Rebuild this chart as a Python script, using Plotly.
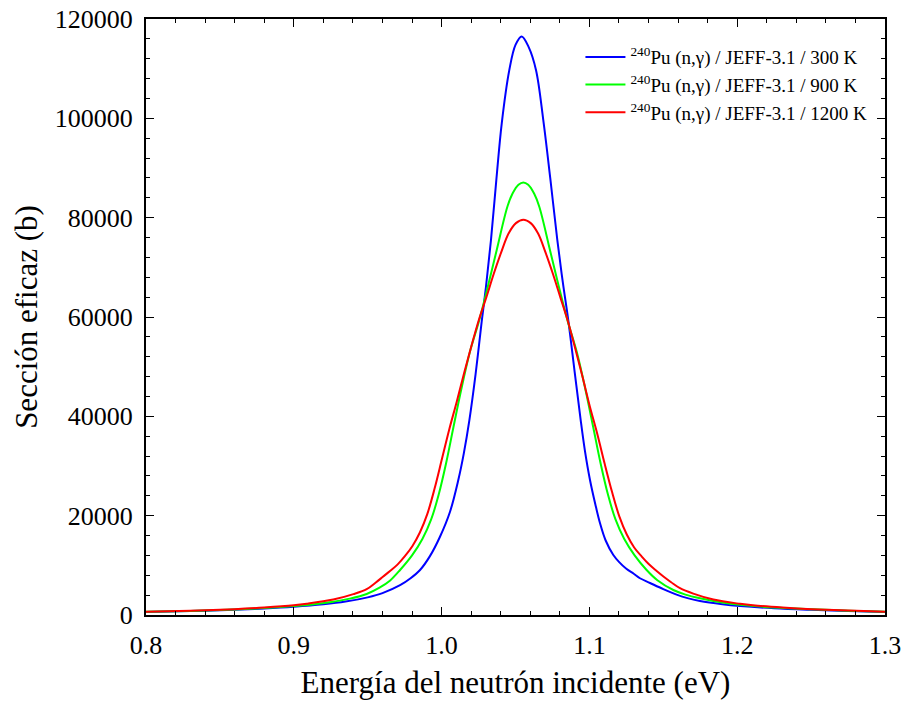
import plotly.graph_objects as go

# Energía (eV) / sección eficaz (b)
E_300 = [0.80, 0.83, 0.86, 0.88, 0.90, 0.92, 0.935, 0.95, 0.96, 0.9719, 0.9790, 0.9854,
         0.9920, 0.9989, 1.0057, 1.0113, 1.0150, 1.0188, 1.0230, 1.0271, 1.0300, 1.0334,
         1.0370, 1.0407, 1.0458, 1.0500, 1.0542, 1.0590, 1.0639, 1.0688, 1.0735, 1.0783,
         1.0820, 1.0857, 1.0900, 1.0941, 1.0970, 1.1004, 1.1040, 1.1072, 1.1110, 1.1162,
         1.1200, 1.1250, 1.1300, 1.1342, 1.1410, 1.1500, 1.1590, 1.1670, 1.1748, 1.19,
         1.2019, 1.225, 1.25, 1.275, 1.30]
S_300 = [620, 800, 1050, 1300, 1650, 2150, 2700, 3550, 4400, 6000, 7400, 9060,
         11800, 15760, 20800, 27180, 32500, 39250, 48500, 59000, 66000, 75490,
         87500, 99000, 109700, 114800, 116500, 114300, 109700, 99640, 88000, 75490,
         67000, 59380, 49000, 39250, 33000, 27180, 22300, 18460, 15000, 12080,
         10700, 9300, 8300, 7400, 6450, 5200, 4100, 3350, 2800, 2150,
         1800, 1350, 1050, 820, 620]

E_900 = [0.80, 0.83, 0.86, 0.88, 0.90, 0.915, 0.9267, 0.938, 0.9493, 0.958, 0.965, 0.9719,
         0.9800, 0.9870, 0.9930, 0.9980, 1.0030, 1.0080, 1.0130, 1.0190, 1.0255, 1.0320,
         1.0373, 1.0445, 1.0480, 1.0520, 1.0553, 1.0586, 1.0626, 1.0661, 1.0733, 1.0786,
         1.0851, 1.0916, 1.0976, 1.1026, 1.1076, 1.1126, 1.1176, 1.1236, 1.1306, 1.1387,
         1.146, 1.1568, 1.165, 1.1748, 1.19, 1.2019, 1.225, 1.25, 1.275, 1.30]
S_900 = [640, 830, 1100, 1400, 1800, 2200, 2690, 3300, 4230, 5500, 6900, 9060,
         12000, 15300, 19300, 24200, 30500, 37800, 45000, 52800, 59400, 67000,
         73500, 82200, 84860, 86640, 87100, 86640, 84860, 82200, 73500, 67000,
         59400, 52800, 45000, 37800, 30500, 24200, 19300, 15300, 12000, 9060,
         7000, 5030, 4100, 3360, 2500, 2050, 1500, 1150, 880, 640]

E_1200 = [0.80, 0.83, 0.86, 0.88, 0.90, 0.9087, 0.9267, 0.9403, 0.9493, 0.9553, 0.9603,
          0.9653, 0.9703, 0.9753, 0.9803, 0.9853, 0.9903, 0.9953, 1.0003, 1.0053, 1.0103,
          1.0153, 1.0203, 1.0253, 1.0303, 1.0353, 1.0403, 1.0453, 1.0503, 1.0553, 1.0603,
          1.0653, 1.0703, 1.0753, 1.0803, 1.0853, 1.0903, 1.0953, 1.1003, 1.1053, 1.1103,
          1.1153, 1.1203, 1.1253, 1.1303, 1.1353, 1.1403, 1.1453, 1.1503, 1.1553, 1.1613,
          1.1703, 1.1839, 1.2019, 1.2106, 1.2306, 1.2506, 1.2806, 1.30]
S_1200 = [650, 860, 1170, 1500, 1950, 2250, 3100, 4200, 5200, 6500, 7700,
          8900, 10200, 11900, 13900, 16600, 20300, 25500, 31500, 37500, 43000,
          48800, 54300, 59500, 64000, 68700, 73000, 76800, 78900, 79600, 78900,
          76800, 73000, 68700, 64000, 59300, 53800, 48000, 42000, 36500, 30500,
          24800, 19800, 16200, 13600, 11800, 10200, 8900, 7700, 6600, 5400,
          4300, 3100, 2250, 1950, 1500, 1170, 860, 660]

names = ["<sup>240</sup>Pu (n,γ) / JEFF-3.1 / 300 K",
         "<sup>240</sup>Pu (n,γ) / JEFF-3.1 / 900 K",
         "<sup>240</sup>Pu (n,γ) / JEFF-3.1 / 1200 K"]
colors = ["#0000ff", "#00ff00", "#ff0000"]

FONT = "Liberation Serif"

fig = go.Figure()
for e, s, n, c in zip([E_300, E_900, E_1200], [S_300, S_900, S_1200], names, colors):
    fig.add_trace(go.Scatter(x=e, y=s, mode="lines", name=n,
                             line=dict(color=c, width=2, shape="spline", smoothing=1.0)))

axis_common = dict(showline=True, linecolor="black", linewidth=2, mirror="ticks",
                   ticks="inside", tickcolor="black", tickwidth=1, showgrid=False,
                   zeroline=False, tickfont=dict(family=FONT, size=26, color="black"))

fig.update_xaxes(range=[0.8, 1.3], dtick=0.1, tick0=0.8, ticklen=8,
                 tickformat=".1f", ticklabelstandoff=6,
                 minor=dict(dtick=0.02, ticks="inside", ticklen=4, tickcolor="black", showgrid=False),
                 title=dict(text="Energía del neutrón incidente (eV)",
                            font=dict(family=FONT, size=31, color="black"), standoff=12),
                 **axis_common)
fig.update_yaxes(range=[0, 120000], dtick=20000, tick0=0, ticklen=8,
                 tickformat="d", ticklabelstandoff=6,
                 minor=dict(dtick=4000, ticks="inside", ticklen=4, tickcolor="black", showgrid=False),
                 title=dict(text="Sección eficaz (b)",
                            font=dict(family=FONT, size=31, color="black"), standoff=8),
                 **axis_common)

fig.update_layout(width=904, height=706,
                  margin=dict(l=146, r=19, t=19, b=91, autoexpand=False),
                  plot_bgcolor="white", paper_bgcolor="white",
                  font=dict(family=FONT, color="black"),
                  legend=dict(x=0.983, y=0.968, xanchor="right", yanchor="top",
                              bgcolor="rgba(0,0,0,0)", borderwidth=0,
                              font=dict(family=FONT, size=19, color="black"),
                              tracegroupgap=0, itemwidth=40))

fig.write_html("out.html")
